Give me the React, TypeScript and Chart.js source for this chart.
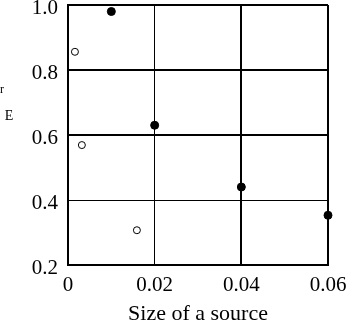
import React, { useEffect, useRef } from "react";
import { Chart, registerables } from "chart.js";
Chart.register(...registerables);

const filledX = [0.01, 0.02, 0.04, 0.06];
const filledY = [0.98, 0.63, 0.44, 0.353];
const openX = [0.0016, 0.0032, 0.0159];
const openY = [0.856, 0.569, 0.307];
const xTicks = [0, 0.02, 0.04, 0.06];
const yTicks = [0.2, 0.4, 0.6, 0.8, 1.0];
const xTitle = "Size of a source";
const yTitleTop = "r";
const yTitleBottom = "E";

const FONT = "'Liberation Serif', 'Times New Roman', serif";

const yLabelPlugin = {
  id: "yLabel",
  afterDraw(chart: any) {
    const ctx = chart.ctx;
    ctx.save();
    ctx.fillStyle = "#000";
    ctx.textAlign = "center";
    ctx.textBaseline = "middle";
    ctx.font = `12px ${FONT}`;
    ctx.fillText(yTitleTop, 2, 90);
    ctx.font = `14px ${FONT}`;
    ctx.fillText(yTitleBottom, 9, 116);
    ctx.restore();
  },
};

export default function App() {
  const ref = useRef<HTMLCanvasElement>(null);
  useEffect(() => {
    document.body.style.margin = "0";
    const chart = new Chart(ref.current!, {
      type: "scatter",
      data: {
        datasets: [
          {
            data: filledX.map((x, i) => ({ x, y: filledY[i] })),
            pointRadius: 4,
            pointBackgroundColor: "#000",
            pointBorderColor: "#000",
            pointBorderWidth: 1,
            clip: false,
          },
          {
            data: openX.map((x, i) => ({ x, y: openY[i] })),
            pointRadius: 3.5,
            pointBackgroundColor: "#fff",
            pointBorderColor: "#000",
            pointBorderWidth: 1,
            clip: false,
          },
        ],
      },
      options: {
        animation: false,
        responsive: false,
        layout: { padding: { left: 0, right: 22, top: 3, bottom: 0 } },
        plugins: { legend: { display: false }, tooltip: { enabled: false } },
        scales: {
          x: {
            type: "linear",
            min: 0,
            max: 0.06,
            afterBuildTicks: (s: any) => {
              s.ticks = xTicks.map((v) => ({ value: v }));
            },
            afterFit: (s: any) => {
              s.height = 56;
              s.paddingLeft = 0;
              s.paddingRight = 0;
            },
            ticks: {
              color: "#000",
              font: { family: FONT, size: 21 },
              padding: 8,
              callback: (v: any) => (v === 0 ? "0" : String(v)),
            },
            grid: {
              color: "#000",
              lineWidth: (c: any) => (c.tick && (c.tick.value === 0.04 || c.tick.value === 0.06) ? 2 : 1),
              drawTicks: false,
            },
            border: { color: "#000", width: 2 },
            title: {
              display: true,
              text: xTitle,
              color: "#000",
              font: { family: FONT, size: 22 },
              padding: { top: 0, bottom: -6 },
            },
          },
          y: {
            type: "linear",
            min: 0.2,
            max: 1.0,
            afterBuildTicks: (s: any) => {
              s.ticks = yTicks.map((v) => ({ value: v }));
            },
            afterFit: (s: any) => {
              s.width = 68;
              s.paddingTop = 0;
              s.paddingBottom = 0;
            },
            ticks: {
              color: "#000",
              font: { family: FONT, size: 21 },
              padding: 10,
              labelOffset: 3,
              callback: (v: any) => Number(v).toFixed(1),
            },
            grid: {
              color: "#000",
              lineWidth: (c: any) => (c.tick && c.tick.value === 0.4 ? 1 : 2),
              drawTicks: false,
            },
            border: { color: "#000", width: 2 },
          },
        },
      },
      plugins: [yLabelPlugin],
    });
    return () => chart.destroy();
  }, []);
  return <canvas ref={ref} width={350} height={321} />;
}
